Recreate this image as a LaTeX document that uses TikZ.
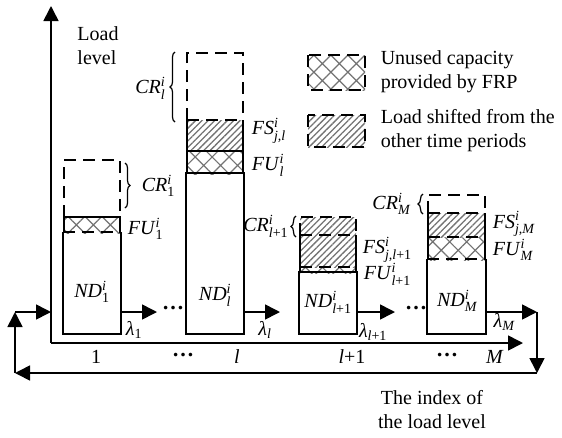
\RequirePackage{fix-cm}
\documentclass[tikz,border=0pt]{standalone}
\usepackage{amsmath}
\usepackage{fontspec}
\setmainfont{Liberation Serif}
\usetikzlibrary{arrows.meta,patterns.meta,decorations.pathreplacing}
\newcommand{\vl}[3]{\textit{#1}$^{\textit{#2}}_{#3}$}
\newcommand{\mydots}{{\fontsize{22}{22}\selectfont\bfseries …}}
\begin{document}
\begin{tikzpicture}[x=1pt,y=-1pt,line width=1.6pt,
 ar/.style={-{Triangle[length=15pt,width=15pt]}},
 dsh/.style={dash pattern=on 12pt off 7pt},
 diag/.style={pattern={Lines[angle=45,distance=4.5pt,line width=1.3pt]},pattern color=black!55},
 crossh/.style={pattern={Hatch[angle=45,distance=12pt,line width=1.2pt]},pattern color=black!55},
 lab/.style={font=\fontsize{20}{22}\selectfont,inner sep=0pt},
 txt/.style={font=\fontsize{20}{24}\selectfont,inner sep=0pt,align=left},
 ndb/.style={minimum width=56pt,inner sep=0pt,draw=none},
 brc/.style={decorate,decoration={brace,amplitude=5pt},line width=1.2pt}]
\useasboundingbox (0,0) rectangle (562,437);

% axes
\coordinate (O) at (51,343);
\coordinate (ytip) at (51,6);
\coordinate (xtip) at (523,343);
\draw[ar] (O) -- (ytip);
\draw[ar] (O) -- (xtip);
\node[txt] (ylab) at (98,46) {Load\\level};
\node[txt,align=center] (xlab) at (432,410) {The index of\\the load level};

% legend
\fill[crossh] (308,55) rectangle (365,90);
\draw[dsh] (308,55) rectangle (365,90);
\node[txt,anchor=west] (leg1) at (380,72) {Unused capacity\\provided by FRP};
\fill[diag] (308,115) rectangle (365,147);
\draw[dsh] (308,115) rectangle (365,147);
\node[txt,anchor=west] (leg2) at (380,131) {Load shifted from the\\other time periods};

% box 1 (x 64-120)
\fill[crossh] (64,217) rectangle (120,233);
\node[ndb,minimum height=100pt] (b1) at (92,283) {};
\draw (b1.north west) -- (b1.south west) -- (b1.south east) -- (b1.north east);
\draw[dsh] (b1.north west) -- (b1.north east);
\draw (64,233) -- (64,217) -- (120,217) -- (120,233);
\draw[dsh] (64,217) -- (64,160) -- (120,160) -- (120,217);
\draw[brc] (125,163) -- (125,208);
\node[lab,anchor=west] (cr1) at (141,186) {\vl{CR}{i}{\textup{1}}};
\node[lab,anchor=west] (fu1) at (127,229) {\vl{FU}{i}{\textup{1}}};
\node[lab] (nd1) at (92,292) {\vl{ND}{i}{\textup{1}}};
\coordinate (a1) at (157,312);
\draw[ar] (b1.east |- a1) -- (a1);
\node[lab] (lam1) at (134,330) {\textit{λ}$_{\textup{1}}$};

% box l (x 187-243)
\fill[diag] (187,120) rectangle (243,151);
\fill[crossh] (187,151) rectangle (243,174);
\node[ndb,minimum height=159pt] (bl) at (215,253.5) {};
\draw (bl.north west) -- (bl.south west) -- (bl.south east) -- (bl.north east) -- cycle;
\draw (187,174) -- (187,120) (243,174) -- (243,120) (187,151) -- (243,151);
\draw[dsh] (187,120) -- (243,120);
\draw[dsh] (187,120) -- (187,53) -- (243,53) -- (243,120);
\draw[brc] (175,122) -- (175,52);
\node[lab,anchor=east] (crl) at (166,88) {\vl{CR}{i}{\textit{l}}};
\node[lab,anchor=west] (fsl) at (251,131) {\vl{FS}{i}{\textit{j,l}}};
\node[lab,anchor=west] (ful) at (251,165) {\vl{FU}{i}{\textit{l}}};
\node[lab] (ndl) at (215,295) {\vl{ND}{i}{\textit{l}}};
\coordinate (a2) at (280,312);
\draw[ar] (bl.east |- a2) -- (a2);
\node[lab] (laml) at (265,330) {\textit{λ}$_{\textit{l}}$};

% box l+1 (x 300-356)
\fill[diag] (300,217) rectangle (356,267);
\fill[crossh] (300,267) rectangle (356,273);
\node[ndb,minimum height=60pt] (bl1) at (328,303) {};
\draw (bl1.north west) -- (bl1.south west) -- (bl1.south east) -- (bl1.north east) -- cycle;
\draw (300,273) -- (300,235) (356,273) -- (356,235);
\draw[dsh] (300,267) -- (356,267);
\draw[dsh] (300,235) -- (356,235);
\draw[dsh] (300,235) -- (300,217) -- (356,217) -- (356,235);
\draw[brc] (296,237) -- (296,216);
\node[lab,anchor=east] (crl1) at (289,226) {\vl{CR}{i}{\textit{l}\textup{+1}}};
\node[lab,anchor=west] (fsl1) at (362,250) {\vl{FS}{i}{\textit{j,l}\textup{+1}}};
\node[lab,anchor=west] (ful1) at (363,274) {\vl{FU}{i}{\textit{l}\textup{+1}}};
\node[lab] (ndl1) at (328,302) {\vl{ND}{i}{\textit{l}\textup{+1}}};
\coordinate (a3) at (395,312);
\draw[ar] (bl1.east |- a3) -- (a3);
\node[lab] (laml1) at (373,332) {\textit{λ}$_{\textit{l}\textup{+1}}$};

% box M (x 428-485)
\fill[diag] (428,213) rectangle (485,237);
\fill[crossh] (428,237) rectangle (485,260);
\node[ndb,minimum width=57pt,minimum height=73pt] (bM) at (456.5,296.5) {};
\draw (bM.north west) -- (bM.south west) -- (bM.south east) -- (bM.north east);
\draw[dsh] (bM.north west) -- (bM.north east);
\draw (428,260) -- (428,213) (485,260) -- (485,213);
\draw[dsh] (428,237) -- (485,237);
\draw[dsh] (428,213) -- (485,213);
\draw[dsh] (428,213) -- (428,195) -- (485,195) -- (485,213);
\draw[brc] (423,214) -- (423,194);
\node[lab,anchor=east] (crM) at (411,204) {\vl{CR}{i}{\textit{M}}};
\node[lab,anchor=west] (fsM) at (492,224) {\vl{FS}{i}{\textit{j,M}}};
\node[lab,anchor=west] (fuM) at (492,250) {\vl{FU}{i}{\textit{M}}};
\node[lab] (ndM) at (457,301) {\vl{ND}{i}{\textit{M}}};
\node[lab] (lamM) at (504,322) {\textit{λ}$_{\textit{M}}$};

% dots between boxes
\node[inner sep=0pt] (dots1) at (173,308) {\mydots};
\node[inner sep=0pt] (dots2) at (416,308) {\mydots};

% feedback loop
\coordinate (r1) at (537,312);
\coordinate (r2) at (537,373);
\coordinate (l2) at (15,373);
\coordinate (l1) at (15,312);
\draw[ar] (bM.east |- r1) -- (r1);
\draw[ar] (r1) -- (r2);
\draw[ar] (r2) -- (l2);
\draw[ar] (l2) -- (l1);
\draw[ar] (l1) -- (O |- l1);

% axis index labels
\node[txt] (i1) at (96,357) {1};
\node[inner sep=0pt] (id1) at (183,355) {\mydots};
\node[txt] (il) at (237,357) {\textit{l}};
\node[txt] (il1) at (352,357) {\textit{l}+1};
\node[inner sep=0pt] (id2) at (447,355) {\mydots};
\node[txt] (iM) at (495,357) {\textit{M}};
\end{tikzpicture}
\end{document}
